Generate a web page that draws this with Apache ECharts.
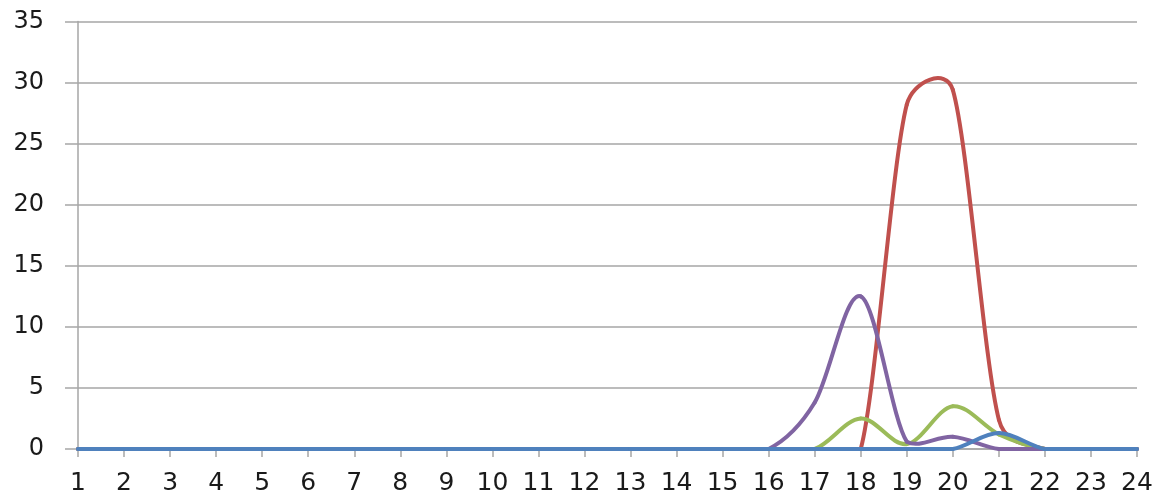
<!DOCTYPE html>
<html>
<head>
<meta charset="utf-8">
<script src="https://cdn.jsdelivr.net/npm/echarts@6/dist/echarts.min.js"></script>
<style>html,body{margin:0;padding:0;background:#fff;}#c{width:1156px;height:499px;}</style>
</head>
<body>
<div id="c"></div>
<script>
var categories = ['1','2','3','4','5','6','7','8','9','10','11','12','13','14','15','16','17','18','19','20','21','22','23','24'];
var seriesRed    = [0,0,0,0,0,0,0,0,0,0,0,0,0,0,0,0,0,0,28.2,29.4,2.4,0,0,0];
var seriesGreen  = [0,0,0,0,0,0,0,0,0,0,0,0,0,0,0,0,0,2.5,0.4,3.5,1.2,0,0,0];
var seriesPurple = [0,0,0,0,0,0,0,0,0,0,0,0,0,0,0,0,3.8,12.5,0.6,1.0,0,0,0,0];
var seriesBlue   = [0,0,0,0,0,0,0,0,0,0,0,0,0,0,0,0,0,0,0,0,1.3,0,0,0];
var yTicks = [0,5,10,15,20,25,30,35];

var chart = echarts.init(document.getElementById('c'), null, {renderer:'canvas'});

function dist(a,b){var dx=b[0]-a[0], dy=b[1]-a[1]; return Math.sqrt(dx*dx+dy*dy);}

// Smoothed line: each segment is a cubic Bezier whose control points follow neighbour
// directions, capped at half segment length, and kept from dipping under the zero line.
function smoothLine(name, data, color){
  return {
    name:name, type:'custom', data:data.map(function(v,i){return [i,v];}),
    encode:{x:0, y:1}, z:2, clip:false,
    renderItem:function(params, api){
      var i = params.dataIndex;
      if (i >= data.length-1) return null;
      var P = function(k){ k=Math.max(0,Math.min(data.length-1,k)); return api.coord([k, data[k]]); };
      var floorY = api.coord([0, 0])[1];
      var P0=P(i-1), P1=P(i), P2=P(i+1), P3=P(i+2);
      var d02=dist(P0,P2), d12=dist(P1,P2), d13=dist(P1,P3);
      var f0 = d02>0 ? Math.min(1/6, d12/(2*d02)) : 0;
      var f1 = d13>0 ? Math.min(1/6, d12/(2*d13)) : 0;
      var cpy1 = Math.min(floorY, P1[1]+(P2[1]-P0[1])*f0);
      var cpy2 = Math.min(floorY, P2[1]-(P3[1]-P1[1])*f1);
      return {
        type:'bezierCurve',
        shape:{x1:P1[0], y1:P1[1], x2:P2[0], y2:P2[1],
               cpx1:P1[0]+(P2[0]-P0[0])*f0, cpy1:cpy1,
               cpx2:P2[0]-(P3[0]-P1[0])*f1, cpy2:cpy2},
        style:{stroke:color, lineWidth:4, fill:null, lineCap:'round', lineJoin:'round'}
      };
    }
  };
}

chart.setOption({
  animation:false,
  backgroundColor:'#fff',
  grid:{left:78, right:19, top:21.5, bottom:50, containLabel:false},
  xAxis:{type:'category', data:categories, boundaryGap:false,
    axisLine:{lineStyle:{color:'#a6a6a6', width:1.5}},
    axisTick:{show:true, length:8, lineStyle:{color:'#a6a6a6', width:1.5}},
    axisLabel:{fontFamily:'DejaVu Sans', fontSize:25, color:'#1a1a1a', margin:22, interval:0},
    splitLine:{show:false}},
  yAxis:{type:'value', min:yTicks[0], max:yTicks[yTicks.length-1], interval:5,
    axisLine:{show:true, lineStyle:{color:'#a6a6a6', width:1.5}},
    axisTick:{show:true, length:13, lineStyle:{color:'#a6a6a6', width:1.5}},
    axisLabel:{fontFamily:'DejaVu Sans', fontSize:24, color:'#1a1a1a', margin:34},
    splitLine:{show:true, lineStyle:{color:'#a6a6a6', width:1.5}}},
  series:[
    smoothLine('Red', seriesRed, '#C0504D'),
    smoothLine('Green', seriesGreen, '#9BBB59'),
    smoothLine('Purple', seriesPurple, '#8064A2'),
    smoothLine('Blue', seriesBlue, '#4F81BD')
  ]
});
</script>
</body>
</html>
